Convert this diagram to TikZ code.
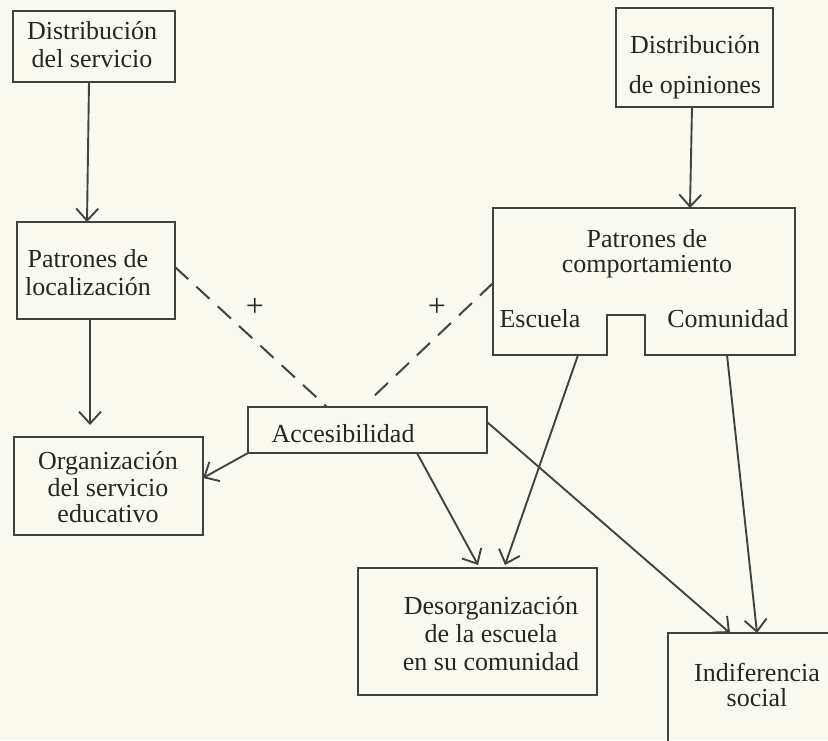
\documentclass[tikz,border=0pt]{standalone}
\usepackage{fontspec}
\setmainfont{Liberation Serif}
\usetikzlibrary{arrows.meta,calc}
\definecolor{paper}{RGB}{251,250,241}
\definecolor{ink}{RGB}{66,66,66}
\definecolor{txtc}{RGB}{38,38,38}
\begin{document}
\begin{tikzpicture}[x=0.5pt,y=-0.5pt,
  boxn/.style={draw=ink, line width=1.3pt, inner sep=0pt, outer sep=0pt, rectangle},
  lbl/.style={text=txtc, align=center, inner sep=0pt, font=\fontsize{13}{14}\selectfont},
  conn/.style={draw=ink, line width=0.95pt, -{Straight Barb[length=6pt,width=11pt]}},
  dashline/.style={draw=ink, line width=1pt, dash pattern=on 9pt off 5.5pt},
]
\fill[paper] (0,0) rectangle (828,740);
\useasboundingbox (0,0) rectangle (828,740);
\clip (0,0) rectangle (828,740);

% boxes
\node[boxn, minimum width=81pt, minimum height=35.5pt] (ds) at (94,46.5) {};
\node[boxn, minimum width=78.5pt, minimum height=49.5pt] (do) at (694.5,57.5) {};
\node[boxn, minimum width=79pt, minimum height=48.5pt] (pl) at (96,270.5) {};
\node[rectangle, inner sep=0pt, outer sep=0pt, minimum width=151pt, minimum height=73.5pt] (pc) at (644,281.5) {};
\node[boxn, minimum width=119.5pt, minimum height=23pt] (acc) at (367.5,430) {};
\node[boxn, minimum width=94.5pt, minimum height=49pt] (org) at (108.5,486) {};
\node[boxn, minimum width=119.5pt, minimum height=63.5pt] (des) at (477.5,631.5) {};
\node[boxn, anchor=north west, minimum width=91pt, minimum height=75pt] (ind) at (668,633) {};

\draw[ink, line width=1.3pt] (pc.south west) -- (pc.north west) -- (pc.north east) -- (pc.south east)
  -- ($(pc.south west)+(152,0)$) -- ($(pc.south west)+(152,-40)$) -- ($(pc.south west)+(114,-40)$)
  -- ($(pc.south west)+(114,0)$) -- cycle;

% texts
\node[lbl] (tds) at (92,45) {Distribución\\del servicio};
\node[lbl, font=\fontsize{13}{20}\selectfont] (tdo) at (695,67) {Distribución\\de opiniones};
\node[lbl] (tpl) at (88,273) {Patrones de\\localización};
\node[lbl, font=\fontsize{13}{12.5}\selectfont] (tpc) at (647,253.5) {Patrones de\\comportamiento};
\node[lbl, anchor=base] (tesc) at (540,327) {Escuela};
\node[lbl, anchor=base] (tcom) at (728,327) {Comunidad};
\node[lbl, anchor=base] (tacc) at (343,442) {Accesibilidad};
\node[lbl, font=\fontsize{13}{13.25}\selectfont] (torg) at (108,487.5) {Organización\\del servicio\\educativo};
\node[lbl] (tdes) at (491,634) {Desorganización\\de la escuela\\en su comunidad};
\node[lbl, font=\fontsize{13}{12.5}\selectfont] (tind) at (757,684.5) {Indiferencia\\social};
\node[lbl, font=\fontsize{16}{16}\selectfont] (plus1) at (255,307) {+};
\node[lbl, font=\fontsize{16}{16}\selectfont] (plus2) at (437,307) {+};

% connectors
\draw[conn] ($(ds.south)+(-5,0)$) -- ($(pl.north)+(-9,0)$);
\draw[conn, shorten >=6pt] ($(pl.south)+(-6,0)$) -- ($(org.north)+(-18.5,0)$);
\draw[conn] ($(do.south)+(-2.5,0)$) -- ($(pc.north)+(46,0)$);
\draw[dashline] ($(pl.north east)+(0,45)$) -- ($(acc.north west)+(79,0)$);
\draw[dashline] ($(pc.north west)+(0,75)$) -- ($(acc.north west)+(124,-9)$);
\draw[conn] (acc.south west) -- ($(org.north east)+(0,41)$);
\draw[conn] ($(acc.south west)+(169,0)$) -- ($(des.north west)+(120,-3)$);
\draw[conn] ($(acc.north east)+(0,15)$) -- ($(ind.north west)+(62,0)$);
\draw[conn] ($(pc.south west)+(85,0)$) -- ($(des.north west)+(147,-3)$);
\draw[conn] ($(pc.south west)+(234,0)$) -- ($(ind.north west)+(89,0)$);
\end{tikzpicture}
\end{document}
